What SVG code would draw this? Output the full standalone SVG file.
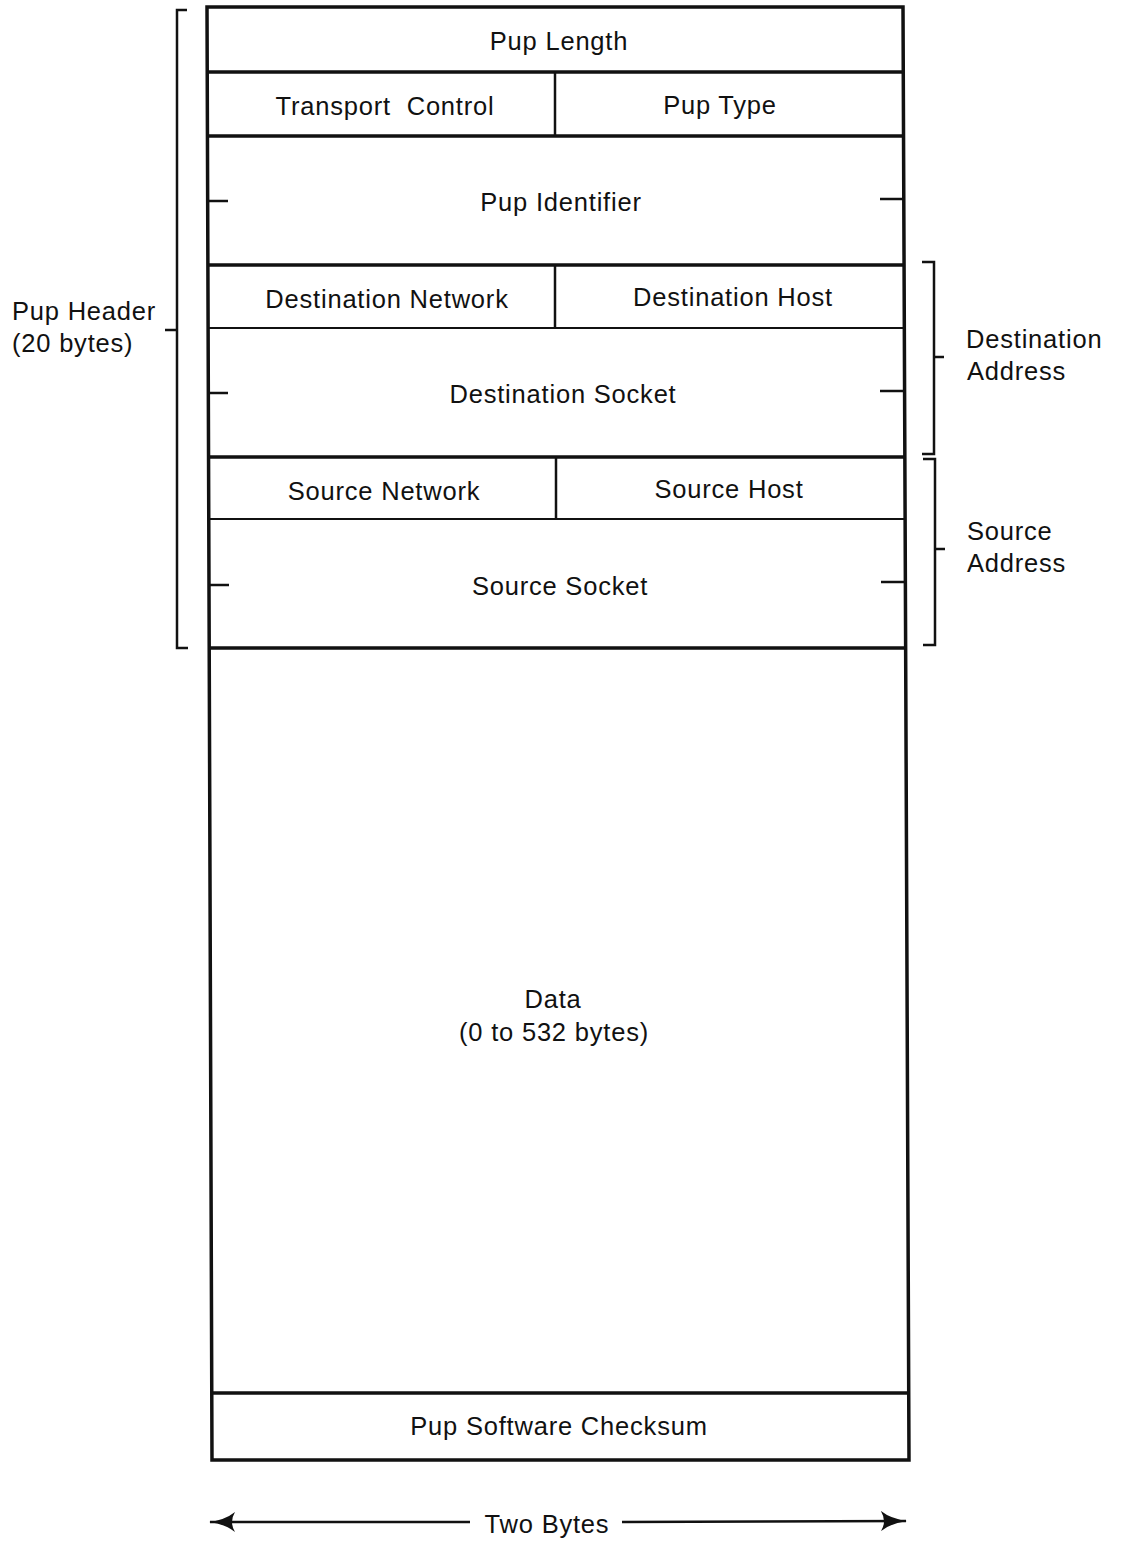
<svg xmlns="http://www.w3.org/2000/svg" width="1121" height="1541" viewBox="0 0 1121 1541">
<style>
text{font-family:"Liberation Sans",Arial,sans-serif;font-size:25.5px;letter-spacing:0.8px;fill:#111}
.c{text-anchor:middle}
.thick{stroke:#111;stroke-width:3.5;fill:none}
.mid{stroke:#111;stroke-width:2.5;fill:none}
.thin{stroke:#111;stroke-width:1.8;fill:none}
</style>
<defs>
<marker id="ah" viewBox="0 0 26 20" refX="25" refY="10" markerWidth="26" markerHeight="20" markerUnits="userSpaceOnUse" orient="auto-start-reverse">
<path d="M0,0 Q10,8 26,10 Q10,12 0,20 Q6,10 0,0 Z" fill="#111"/>
</marker>
</defs>
<rect width="1121" height="1541" fill="#fff"/>
<g id="frame">
<path class="thick" d="M207,7 L903,7 L909,1460 L212,1460 Z" stroke-width="4.5"/>
</g>
<g id="connectors">
<line class="thick" x1="207" y1="72" x2="903" y2="72"/>
<line class="thick" x1="208" y1="136" x2="903" y2="136"/>
<line class="thick" x1="208" y1="265" x2="904" y2="265"/>
<line class="thin" x1="209" y1="328" x2="904" y2="328"/>
<line class="thick" x1="209" y1="457" x2="905" y2="457"/>
<line class="thin" x1="209" y1="519" x2="905" y2="519"/>
<line class="thick" x1="210" y1="648" x2="905" y2="648"/>
<line class="thick" x1="212" y1="1393" x2="908" y2="1393"/>
<line class="mid" x1="555" y1="72" x2="555" y2="136"/>
<line class="mid" x1="555" y1="265" x2="555" y2="328"/>
<line class="mid" x1="556" y1="457" x2="556" y2="519"/>
<line class="mid" x1="209" y1="201" x2="228" y2="201"/>
<line class="mid" x1="210" y1="393" x2="228" y2="393"/>
<line class="mid" x1="210" y1="585" x2="229" y2="585"/>
<line class="mid" x1="880" y1="199" x2="903" y2="199"/>
<line class="mid" x1="880" y1="391" x2="904" y2="391"/>
<line class="mid" x1="881" y1="582" x2="905" y2="582"/>
<path class="mid" d="M187,10 L177,10 L177,648 L188,648"/>
<line class="mid" x1="165" y1="330" x2="177" y2="330"/>
<path class="mid" d="M922,262 L934,262 L934,454 L922,454"/>
<line class="mid" x1="934" y1="357" x2="944" y2="357"/>
<path class="mid" d="M923,459 L935,459 L935,645 L923,645"/>
<line class="mid" x1="935" y1="549" x2="945" y2="549"/>
<line class="mid" x1="210" y1="1522" x2="470" y2="1522" marker-start="url(#ah)"/>
<line class="mid" x1="622" y1="1522" x2="906" y2="1521" marker-end="url(#ah)"/>
</g>
<g id="pup-length"><text class="c" x="559" y="50">Pup Length</text></g>
<g id="transport-control"><text class="c" x="385" y="115" xml:space="preserve">Transport  Control</text></g>
<g id="pup-type"><text class="c" x="720" y="114">Pup Type</text></g>
<g id="pup-identifier"><text class="c" x="561" y="211">Pup Identifier</text></g>
<g id="dest-network"><text class="c" x="387" y="308">Destination Network</text></g>
<g id="dest-host"><text class="c" x="733" y="306">Destination Host</text></g>
<g id="dest-socket"><text class="c" x="563" y="403">Destination Socket</text></g>
<g id="src-network"><text class="c" x="384" y="500">Source Network</text></g>
<g id="src-host"><text class="c" x="729" y="498">Source Host</text></g>
<g id="src-socket"><text class="c" x="560" y="595">Source Socket</text></g>
<g id="data"><text class="c" x="553" y="1008">Data</text><text class="c" x="554" y="1041">(0 to 532 bytes)</text></g>
<g id="checksum"><text class="c" x="559" y="1435">Pup Software Checksum</text></g>
<g id="pup-header"><text x="12" y="320">Pup Header</text><text x="12" y="352">(20 bytes)</text></g>
<g id="dest-address"><text x="966" y="348">Destination</text><text x="967" y="380">Address</text></g>
<g id="src-address"><text x="967" y="540">Source</text><text x="967" y="572">Address</text></g>
<g id="two-bytes"><text class="c" x="547" y="1533">Two Bytes</text></g>
</svg>
